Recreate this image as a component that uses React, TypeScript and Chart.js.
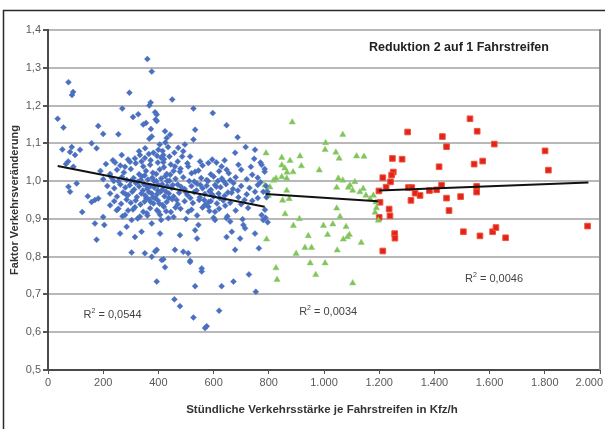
import React, { useEffect, useRef } from "react";
import { Chart, registerables } from "chart.js";

Chart.register(...registerables);

const chartTitle = "Reduktion 2 auf 1 Fahrstreifen";
const xAxisTitle = "Stündliche Verkehrsstärke je Fahrstreifen in Kfz/h";
const yAxisTitle = "Faktor Verkehrsveränderung";
const xTicks = [0, 200, 400, 600, 800, 1000, 1200, 1400, 1600, 1800, 2000];

const bluePoints: [number, number][] = [
  [360, 1.323], [376, 1.29], [74, 1.262], [91, 1.236], [87, 1.228], [295, 1.234], [35, 1.165], [56, 1.142],
  [269, 1.192], [308, 1.17], [327, 1.177], [345, 1.15], [355, 1.154], [372, 1.208], [367, 1.2], [388, 1.182],
  [390, 1.163], [182, 1.146], [200, 1.125], [255, 1.124], [373, 1.138], [376, 1.118], [367, 1.112], [158, 1.1],
  [176, 1.087], [52, 1.084], [86, 1.09], [80, 1.077], [98, 1.069], [116, 1.083], [65, 1.045], [73, 1.052],
  [92, 1.038], [243, 1.049], [267, 1.069], [279, 1.038], [297, 1.051], [315, 1.06], [333, 1.069], [339, 1.052],
  [351, 1.061], [370, 1.043], [382, 1.075], [400, 1.083],
  [450, 1.216], [527, 1.192], [597, 1.18], [647, 1.148], [533, 1.136], [527, 1.11], [687, 1.116], [394, 1.176],
  [394, 1.159], [424, 1.132], [442, 1.123], [430, 1.114], [472, 1.088], [496, 1.097], [490, 1.079], [515, 1.065],
  [678, 1.075], [716, 1.09], [750, 1.083], [747, 1.059], [774, 1.043], [551, 1.052], [581, 1.048], [595, 1.057],
  [629, 1.039], [647, 1.03], [460, 1.039], [478, 1.025], [508, 1.039], [533, 1.025],
  [74, 0.985], [104, 0.994], [80, 0.972], [144, 0.96], [158, 0.945], [170, 0.95], [182, 0.954], [124, 0.918],
  [170, 0.888], [204, 0.884], [200, 0.905], [176, 0.845], [261, 0.861], [285, 0.879], [315, 0.852], [339, 0.866],
  [225, 0.936], [249, 0.923], [279, 0.91], [303, 0.897], [333, 0.906], [358, 0.915], [376, 0.888], [400, 0.919],
  [303, 0.811], [351, 0.809], [376, 0.8], [388, 0.814],
  [406, 0.861], [478, 0.857], [533, 0.87], [545, 0.884], [540, 0.848], [460, 0.818], [490, 0.813], [508, 0.809],
  [647, 0.852], [666, 0.866], [708, 0.884], [714, 0.875], [750, 0.861], [696, 0.848], [678, 0.818], [764, 0.822],
  [418, 0.793], [394, 0.818], [515, 0.789], [557, 0.769], [605, 0.897], [647, 0.902], [660, 0.893], [605, 0.919],
  [581, 0.932], [508, 0.919], [436, 0.902], [406, 0.911], [774, 0.91], [780, 0.897], [786, 0.924],
  [394, 0.734], [424, 0.772], [412, 0.791], [515, 0.786], [557, 0.761], [533, 0.722], [629, 0.722], [672, 0.734],
  [728, 0.753], [753, 0.707], [458, 0.687], [478, 0.669], [527, 0.639], [569, 0.611], [575, 0.616], [620, 0.657],
  [785, 1.032], [790, 0.987], [795, 0.972], [792, 0.957], [788, 0.903], [796, 0.891], [770, 0.997], [780, 0.972],
  [210, 1.045], [235, 1.055], [262, 1.041], [290, 1.057], [318, 1.047], [345, 1.039], [372, 1.055], [398, 1.049],
  [420, 1.058], [445, 1.044], [470, 1.052], [505, 1.047], [560, 1.041], [610, 1.049], [640, 1.055], [690, 1.043],
  [735, 1.038], [770, 1.049],
  [190, 1.027], [225, 1.019], [250, 1.03], [275, 1.023], [300, 1.032], [330, 1.018], [355, 1.027], [380, 1.022],
  [405, 1.031], [430, 1.019], [455, 1.027], [480, 1.033], [520, 1.021], [545, 1.028], [590, 1.018], [620, 1.026],
  [655, 1.021], [700, 1.03], [740, 1.017], [785, 1.025],
  [200, 1.005], [230, 1.009], [255, 1.0], [268, 1.011], [285, 1.003], [310, 1.008], [325, 0.998], [340, 1.012],
  [362, 1.004], [378, 1.009], [392, 1.0], [410, 1.007], [425, 1.013], [440, 1.001], [462, 1.006], [490, 1.01],
  [530, 0.999], [555, 1.008], [575, 1.003], [600, 1.012], [615, 1.0], [630, 1.007], [660, 1.002], [680, 1.01],
  [720, 1.005], [760, 1.009],
  [215, 0.987], [240, 0.981], [262, 0.991], [280, 0.983], [296, 0.989], [312, 0.978], [330, 0.986], [348, 0.992],
  [360, 0.98], [372, 0.987], [385, 0.983], [400, 0.99], [415, 0.978], [432, 0.987], [448, 0.982], [470, 0.991],
  [495, 0.979], [520, 0.987], [540, 0.993], [560, 0.981], [575, 0.988], [590, 0.977], [605, 0.99], [625, 0.984],
  [645, 0.992], [670, 0.979], [700, 0.987], [730, 0.982], [760, 0.99],
  [225, 0.967], [250, 0.959], [272, 0.97], [290, 0.963], [305, 0.972], [322, 0.958], [338, 0.967], [352, 0.962],
  [366, 0.971], [380, 0.957], [395, 0.965], [408, 0.972], [422, 0.96], [438, 0.967], [455, 0.959], [475, 0.969],
  [505, 0.963], [530, 0.971], [550, 0.957], [568, 0.966], [585, 0.973], [600, 0.959], [618, 0.967], [640, 0.961],
  [665, 0.969], [690, 0.957], [720, 0.965], [750, 0.972],
  [240, 0.947], [265, 0.94], [285, 0.951], [300, 0.943], [318, 0.949], [335, 0.938], [350, 0.946], [365, 0.952],
  [382, 0.941], [398, 0.949], [415, 0.937], [430, 0.945], [450, 0.952], [470, 0.939], [495, 0.947], [525, 0.942],
  [548, 0.95], [570, 0.938], [590, 0.947], [612, 0.941], [635, 0.949], [660, 0.943], [700, 0.939], [740, 0.948],
  [255, 0.927], [290, 0.922], [315, 0.931], [345, 0.919], [370, 0.928], [395, 0.923], [420, 0.932], [445, 0.918],
  [480, 0.927], [520, 0.924], [560, 0.93], [585, 0.921], [620, 0.927], [680, 0.922], [725, 0.929],
  [270, 0.907], [325, 0.901], [360, 0.909], [410, 0.897], [455, 0.905], [500, 0.9], [540, 0.909], [600, 0.903],
  [650, 0.907], [705, 0.899],
  [330, 1.079], [352, 1.087], [405, 1.097], [415, 1.08], [425, 1.102], [418, 1.069], [435, 1.09], [410, 1.062],
  [440, 1.065], [365, 1.072], [395, 1.067], [420, 1.037], [350, 1.015], [392, 1.019], [414, 0.992], [428, 0.972],
  [443, 1.017], [388, 0.955], [358, 0.987], [376, 0.967],
  [300, 1.0], [318, 0.995], [336, 1.003], [344, 0.975], [356, 0.955], [372, 0.945], [384, 1.0], [398, 0.975],
  [404, 0.94], [418, 1.05], [432, 1.0], [438, 0.955], [452, 0.99], [458, 1.075], [466, 0.95], [482, 0.985],
  [486, 1.065], [500, 0.97], [512, 1.0], [516, 0.955], [538, 0.975], [552, 0.99], [566, 0.95], [580, 1.0],
  [594, 0.965], [610, 0.985], [622, 0.955], [636, 1.0], [652, 0.97], [672, 0.995], [688, 0.975], [712, 0.95],
  [238, 1.0], [282, 0.965], [308, 0.925], [428, 0.92], [462, 0.93], [582, 0.945], [642, 0.935], [760, 0.955],
];

const greenPoints: [number, number][] = [
  [885, 1.156], [790, 1.074], [847, 1.062], [877, 1.054], [913, 1.066], [847, 1.042], [858, 1.034], [866, 1.023],
  [888, 1.024], [918, 1.04], [847, 1.011], [865, 1.007], [826, 1.007], [817, 1.002], [804, 0.984], [792, 0.975],
  [786, 0.989], [798, 0.962], [850, 0.949], [874, 0.953], [865, 0.975], [859, 0.913], [889, 0.882], [911, 0.9],
  [792, 0.846], [983, 1.029], [1006, 1.101], [1004, 1.083], [1068, 1.123], [1043, 1.076], [1055, 1.06], [1118, 1.066],
  [1145, 1.065], [1052, 1.007], [1068, 1.002], [1094, 0.989], [1112, 0.998], [1046, 0.983], [1088, 0.983], [1104, 0.975],
  [1130, 0.971], [1142, 0.98], [1152, 0.962], [1179, 0.962], [1167, 0.953], [1188, 0.944], [1190, 0.929], [1046, 0.928],
  [1058, 0.906], [1032, 0.886], [998, 0.882], [1080, 0.879], [1085, 0.852], [1092, 0.858], [1070, 0.846], [1013, 0.858],
  [943, 0.855], [931, 0.824], [955, 0.824], [899, 0.808], [1048, 0.817], [1135, 0.837], [950, 0.783], [1004, 0.783],
  [826, 0.77], [830, 0.739], [970, 0.752], [1104, 0.73], [1197, 0.896], [1185, 0.917],
];

const redPoints: [number, number][] = [
  [1529, 1.165], [1555, 1.132], [1303, 1.13], [1429, 1.118], [1444, 1.091], [1617, 1.098], [1801, 1.08], [1813, 1.029],
  [1248, 1.06], [1283, 1.058], [1575, 1.053], [1544, 1.045], [1417, 1.038], [1213, 1.009], [1251, 1.024], [1245, 1.016],
  [1241, 0.998], [1225, 0.984], [1199, 0.974], [1306, 0.983], [1318, 0.983], [1330, 0.968], [1348, 0.962], [1382, 0.975],
  [1408, 0.977], [1426, 0.989], [1553, 0.986], [1553, 0.971], [1315, 0.949], [1444, 0.955], [1495, 0.959], [1453, 0.922],
  [1203, 0.944], [1236, 0.926], [1239, 0.908], [1200, 0.904], [1256, 0.861], [1257, 0.849], [1213, 0.815], [1505, 0.866],
  [1565, 0.855], [1611, 0.866], [1623, 0.877], [1658, 0.85], [1955, 0.881],
];

const blueTrendX = [35, 785];
const blueTrendY = [1.04, 0.932];
const greenTrendX = [788, 1195];
const greenTrendY = [0.966, 0.947];
const redTrendX = [1200, 1958];
const redTrendY = [0.975, 0.996];

const r2Labels: { x: number; y: number; value: string }[] = [
  { x: 234, y: 0.645, value: "0,0544" },
  { x: 1015, y: 0.654, value: "0,0034" },
  { x: 1616, y: 0.742, value: "0,0046" },
];

const toXY = (pts: [number, number][]) => pts.map(([x, y]) => ({ x, y }));
const trend = (xs: number[], ys: number[]) => xs.map((x, i) => ({ x, y: ys[i] }));

const fmtX = (v: number) =>
  v >= 1000 ? `${Math.floor(v / 1000)}.${String(v % 1000).padStart(3, "0")}` : String(v);

const FONT = '"Liberation Sans", Arial, sans-serif';

const decor = {
  id: "decor",
  beforeDraw(chart: any) {
    const { ctx, width, height } = chart;
    ctx.save();
    ctx.fillStyle = "#ffffff";
    ctx.fillRect(0, 0, width, height);
    ctx.strokeStyle = "#2a2a2a";
    ctx.lineWidth = 1.5;
    ctx.beginPath();
    ctx.moveTo(3.5, height);
    ctx.lineTo(3.5, 10.5);
    ctx.lineTo(width, 10.5);
    ctx.stroke();
    ctx.restore();
  },
  afterDraw(chart: any) {
    const { ctx, chartArea: a, scales } = chart;
    const xs = scales.x;
    const ys = scales.y;
    ctx.save();
    ctx.strokeStyle = "#8a8a8a";
    ctx.lineWidth = 2;
    ctx.beginPath();
    ctx.moveTo(a.right, a.top - 1);
    ctx.lineTo(a.right, a.bottom);
    ctx.stroke();

    ctx.font = `11px ${FONT}`;
    ctx.fillStyle = "#5a5a5a";
    ctx.textBaseline = "middle";
    ctx.textAlign = "center";
    for (const v of xTicks) {
      const label = fmtX(v);
      const w = ctx.measureText(label).width;
      let px = xs.getPixelForValue(v);
      px = Math.min(px, chart.width - 2 - w / 2);
      ctx.fillText(label, px, 383);
    }

    ctx.fillStyle = "#333333";
    ctx.font = `bold 11.5px ${FONT}`;
    ctx.fillText(xAxisTitle, 322, 410);
    ctx.save();
    ctx.translate(15, (a.top + a.bottom) / 2);
    ctx.rotate(-Math.PI / 2);
    ctx.font = `bold 11px ${FONT}`;
    ctx.fillText(yAxisTitle, 0, 0);
    ctx.restore();

    ctx.font = `bold 12.5px ${FONT}`;
    ctx.fillStyle = "#222222";
    ctx.fillText(chartTitle, 459, 48);

    ctx.fillStyle = "#444444";
    for (const l of r2Labels) {
      const cx = xs.getPixelForValue(l.x);
      const cy = ys.getPixelForValue(l.y);
      ctx.font = `11px ${FONT}`;
      const rest = ` = ${l.value}`;
      const wR = ctx.measureText("R").width;
      const wRest = ctx.measureText(rest).width;
      ctx.font = `7px ${FONT}`;
      const w2 = ctx.measureText("2").width;
      const total = wR + w2 + wRest;
      const x0 = cx - total / 2;
      ctx.textAlign = "left";
      ctx.font = `11px ${FONT}`;
      ctx.fillText("R", x0, cy);
      ctx.font = `7px ${FONT}`;
      ctx.fillText("2", x0 + wR, cy - 4);
      ctx.font = `11px ${FONT}`;
      ctx.fillText(rest, x0 + wR + w2, cy);
    }
    ctx.restore();
  },
};

export default function App() {
  const ref = useRef<HTMLCanvasElement | null>(null);
  useEffect(() => {
    if (!ref.current) return;
    const lineDs = (data: any[]) => ({
      type: "scatter" as const,
      data,
      showLine: true,
      borderColor: "#111111",
      borderWidth: 2,
      pointRadius: 0,
      fill: false,
      order: 0,
    });
    const chart = new Chart(ref.current, {
      type: "scatter",
      data: {
        datasets: [
          lineDs(trend(blueTrendX, blueTrendY)),
          lineDs(trend(greenTrendX, greenTrendY)),
          lineDs(trend(redTrendX, redTrendY)),
          {
            data: toXY(bluePoints),
            pointStyle: "rectRot",
            pointRadius: 3,
            pointBackgroundColor: "#4a6fbf",
            pointBorderColor: "#5478c4",
            pointBorderWidth: 0.5,
            order: 1,
          },
          {
            data: toXY(greenPoints),
            pointStyle: "triangle",
            pointRadius: 3.6,
            pointBackgroundColor: "#80c45c",
            pointBorderColor: "#8fcc6c",
            pointBorderWidth: 0.5,
            order: 1,
          },
          {
            data: toXY(redPoints),
            pointStyle: "rect",
            pointRadius: 4,
            pointBackgroundColor: "#e2231b",
            pointBorderColor: "#f0553a",
            pointBorderWidth: 1,
            order: 1,
          },
        ] as any,
      },
      options: {
        responsive: false,
        animation: false,
        devicePixelRatio: 1,
        layout: { padding: { left: 0, right: 4, top: 30, bottom: 0 } },
        plugins: { legend: { display: false }, tooltip: { enabled: false } },
        scales: {
          x: {
            type: "linear",
            min: 0,
            max: 2000,
            ticks: { stepSize: 200, display: false },
            grid: {
              drawOnChartArea: false,
              drawTicks: true,
              tickLength: 4,
              tickColor: "#555555",
              color: "#555555",
            },
            border: { color: "#4a4a4a", width: 2 },
            afterFit: (s: any) => {
              s.height = 59;
            },
          },
          y: {
            type: "linear",
            min: 0.5,
            max: 1.4,
            ticks: {
              stepSize: 0.1,
              padding: 2,
              color: "#5a5a5a",
              font: { family: FONT, size: 11 },
              callback: (v: any) => Number(v).toFixed(1).replace(".", ","),
            },
            grid: {
              color: "#b8b8b8",
              lineWidth: 2,
              tickLength: 5,
              tickColor: "#555555",
            },
            border: { color: "#4a4a4a", width: 2 },
            afterFit: (s: any) => {
              s.width = 48;
            },
          },
        },
      },
      plugins: [decor],
    } as any);
    return () => chart.destroy();
  }, []);
  return (
    <div
      style={{
        position: "fixed",
        left: 0,
        top: 0,
        width: 605,
        height: 429,
        background: "#fff",
      }}
    >
      <canvas ref={ref} width={605} height={429} style={{ display: "block" }} />
    </div>
  );
}
